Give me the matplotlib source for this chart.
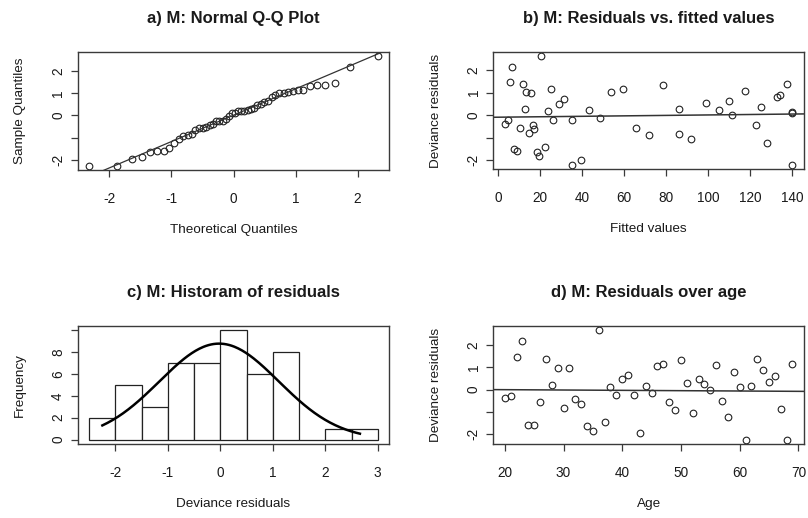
import numpy as np
import matplotlib
matplotlib.use("Agg")
import matplotlib.pyplot as plt
from statistics import NormalDist

plt.rcParams['font.family'] = ['Liberation Sans', 'DejaVu Sans']
plt.rcParams['axes.unicode_minus'] = False

# residuals by age (panel d), also used for Q-Q plot and histogram
age = list(range(20, 70))
resid = [-0.39, -0.27, 1.46, 2.18, -1.58, -1.58, -0.58, 1.36, 0.22, 0.99,
         -0.82, 0.99, -0.43, -0.64, -1.63, -1.87, 2.66, -1.48, 0.13, -0.25,
         0.49, 0.66, -0.25, -1.97, 0.18, -0.15, 1.04, 1.13, -0.58, -0.91,
         1.31, 0.28, -1.06, 0.48, 0.24, -0.03, 1.09, -0.52, -1.24, 0.81,
         0.13, -2.25, 0.18, 1.37, 0.90, 0.33, 0.61, -0.87, -2.25, 1.13]

# fitted values and residuals (panel b)
fitted = [3.3, 4.6, 5.9, 6.5, 7.8, 8.9, 10.4, 12.0, 13.0, 13.5,
          15.7, 15.0, 16.6, 17.3, 18.4, 19.6, 20.6, 22.5, 24.1, 25.2,
          26.3, 29.1, 31.5, 35.2, 35.2, 39.4, 43.2, 48.8, 53.8, 59.4,
          65.6, 72.0, 78.7, 86.2, 86.2, 92.2, 99.3, 105.5, 109.9, 111.3,
          117.5, 122.9, 125.4, 128.0, 133.0, 134.3, 137.8, 140.3, 140.3, 140.3]
resid_fit = [-0.38, -0.23, 1.48, 2.15, -1.50, -1.58, -0.56, 1.38, 0.26, 1.03,
             0.98, -0.80, -0.41, -0.61, -1.62, -1.82, 2.62, -1.42, 0.17, 1.14,
             -0.23, 0.50, 0.70, -0.23, -2.20, -1.97, 0.21, -0.14, 1.05, 1.14,
             -0.56, -0.89, 1.32, 0.26, -0.83, -1.05, 0.55, 0.21, 0.61, 0.02,
             1.09, -0.45, 0.36, -1.21, 0.80, 0.91, 1.38, 0.15, 0.12, -2.20]

# straight lines (intercept, slope)
qq_line = (0.01, 1.18)
trend_fit = (-0.087, 0.001)
trend_age = (0.025, -0.0015)

hist_breaks = [-2.5, -2, -1.5, -1, -0.5, 0, 0.5, 1, 1.5, 2, 2.5, 3]

W, H = 808, 518
fig = plt.figure(figsize=(W / 100, H / 100), dpi=100)

def px_axes(left, top, right, bottom):
    return fig.add_axes([left / W, 1 - bottom / H, (right - left) / W, (bottom - top) / H])

box_col = '#3a3a3a'
txt_col = '#1a1a1a'

def style(ax, title, xlabel, ylabel):
    for s in ax.spines.values():
        s.set_color(box_col)
        s.set_linewidth(1.0)
    ax.tick_params(direction='out', length=5, width=0.9, color=box_col,
                   labelsize=9.8, labelcolor=txt_col)
    ax.tick_params(axis='x', pad=10.5)
    ax.tick_params(axis='y', pad=4)
    for lab in ax.get_yticklabels():
        lab.set_rotation(90)
        lab.set_va('center')
    ax.set_title(title, fontsize=12, fontweight='bold', color=txt_col,
                 y=1.28, va='center', pad=0)
    ax.set_xlabel(xlabel, fontsize=9.7, color=txt_col)
    ax.set_ylabel(ylabel, fontsize=9.7, color=txt_col)
    ax.xaxis.set_label_coords(0.5, -0.51)
    ax.xaxis.label.set_va('center')
    ax.yaxis.set_label_coords(-0.185, 0.5)
    ax.yaxis.label.set_va('center')

def resid_yticks(ax):
    ax.set_yticks([-2, -1, 0, 1, 2])
    ax.set_yticklabels(['-2', '', '0', '1', '2'])

def add_line(ax, coef, **kw):
    ax.margins(0.04)
    ax.autoscale_view()
    xl = ax.get_xlim(); yl = ax.get_ylim()
    ax.plot(xl, [coef[0] + coef[1] * x for x in xl], **kw)
    ax.set_xlim(xl); ax.set_ylim(yl)

pt_kw = dict(marker='o', ms=4.8, mfc='none', mec='#222222', mew=0.8, ls='none')

# a) Q-Q plot
ax = px_axes(77.7, 51.7, 389.3, 170)
r = np.sort(np.array(resid))
n = len(r)
nd = NormalDist()
theo = np.array([nd.inv_cdf((i - 0.5) / n) for i in range(1, n + 1)])
ax.plot(theo, r, **pt_kw)
add_line(ax, qq_line, color='#333333', lw=0.9)
ax.set_xticks([-2, -1, 0, 1, 2])
resid_yticks(ax)
style(ax, 'a) M: Normal Q-Q Plot', 'Theoretical Quantiles', 'Sample Quantiles')

# b) residuals vs fitted
ax = px_axes(493.3, 51.7, 804, 169.3)
ax.plot(fitted, resid_fit, **pt_kw)
add_line(ax, trend_fit, color='#333333', lw=1.1)
ax.set_xticks(range(0, 141, 20))
resid_yticks(ax)
style(ax, 'b) M: Residuals vs. fitted values', 'Fitted values', 'Deviance residuals')

# c) histogram
ax = px_axes(77.7, 325.7, 389.3, 444)
counts, _, _ = ax.hist(resid, bins=hist_breaks, facecolor='white',
                       edgecolor='#222222', linewidth=0.9)
ax.use_sticky_edges = False
ax.margins(0.04)
ax.autoscale_view()
mu, sd = np.mean(resid), np.std(resid, ddof=1)
xs = np.linspace(min(resid), max(resid), 200)
bw = hist_breaks[1] - hist_breaks[0]
ax.plot(xs, n * bw * np.exp(-0.5 * ((xs - mu) / sd) ** 2) / (sd * np.sqrt(2 * np.pi)),
        color='black', lw=1.8)
ax.set_xticks([-2, -1, 0, 1, 2, 3])
ax.set_yticks([0, 2, 4, 6, 8, 10])
ax.set_yticklabels(['0', '2', '4', '6', '8', ''])
style(ax, 'c) M: Historam of residuals', 'Deviance residuals', 'Frequency')

# d) residuals over age
ax = px_axes(493.3, 326, 804, 444)
ax.plot(age, resid, **pt_kw)
add_line(ax, trend_age, color='#333333', lw=1.1)
ax.set_xticks(range(20, 71, 10))
resid_yticks(ax)
style(ax, 'd) M: Residuals over age', 'Age', 'Deviance residuals')

fig.savefig('out.png', dpi=100)
